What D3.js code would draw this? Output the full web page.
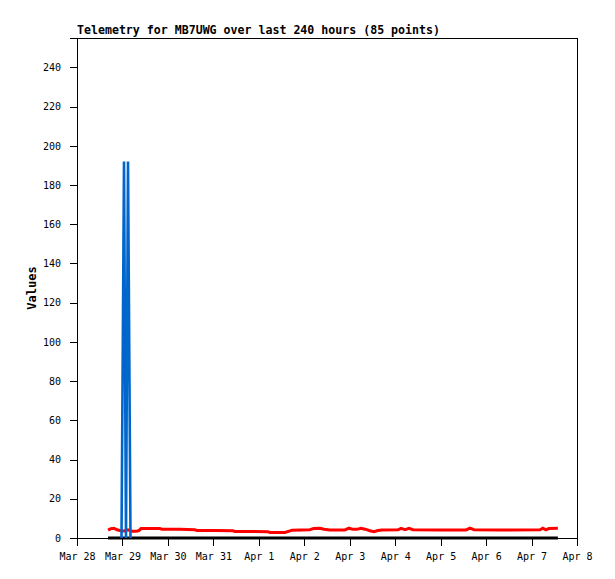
<!DOCTYPE html>
<html>
<head>
<meta charset="utf-8">
<script src="https://cdn.jsdelivr.net/npm/d3@7"></script>
<style>
  body { margin: 0; background: #fff; }
  svg { display: block; }
</style>
</head>
<body>
<svg id="chart" width="615" height="579"></svg>
<script>
// ---- data ----
const titleText = "Telemetry for MB7UWG over last 240 hours (85 points)";
const yLabel = "Values";
const startDate = "2024-03-28T00:00:00Z";
const endDate = "2024-04-08T00:00:00Z";
const yTicks = [0, 20, 40, 60, 80, 100, 120, 140, 160, 180, 200, 220, 240];

// red series: hours after Mar 28 00:00, value
const redHours = [16.4, 17.9, 19.5, 21.1, 22.7, 24.8, 26.9, 29.0, 31.2, 32.7, 33.8, 38.5, 43.8, 44.9,
  54.4, 62.3, 63.4, 72.9, 82.4, 83.4, 91.3, 100.8, 101.9, 109.8, 112.5, 113.5, 123.0, 125.0,
  128.3, 130.4, 133.6, 141.5, 143.6, 145.7, 147.8, 149.9, 152.1, 154.7, 156.8, 158.9, 161.0,
  169.5, 171.1, 173.2, 175.3, 177.4, 191.7, 205.4, 207.5, 209.6, 223.3, 244.5, 246.0, 247.6,
  249.2, 253.9];
const redValues = [4.0, 4.8, 5.0, 4.2, 3.8, 3.6, 4.2, 3.4, 3.4, 3.8, 4.8, 4.8, 4.8, 4.4,
  4.4, 4.2, 3.8, 3.8, 3.7, 3.3, 3.3, 3.2, 2.8, 2.8, 3.6, 4.0, 4.2, 4.9,
  5.0, 4.5, 4.1, 4.1, 5.0, 4.4, 4.4, 5.0, 4.5, 3.7, 3.2, 3.8, 4.1,
  4.2, 4.9, 4.3, 4.9, 4.2, 4.1, 4.1, 5.0, 4.2, 4.1, 4.2, 5.0, 4.2,
  4.8, 5.0];

// blue series (spikes)
const blueHours = [23.5, 24.82, 25.87, 26.93, 28.25];
const blueValues = [0, 192, 0, 192, 0];

// black series (zero line)
const blackHours = [16.4, 253.9];
const blackValues = [0, 0];

// ---- layout ----
const W = 615, H = 579;
const m = { left: 77, right: 38, top: 38, bottom: 41 };
const iw = W - m.left - m.right, ih = H - m.top - m.bottom;
const mono = "'DejaVu Sans Mono', 'Liberation Mono', monospace";

const t0 = new Date(startDate);
const toDate = h => new Date(t0.getTime() + h * 3600e3);

const x = d3.scaleUtc().domain([new Date(startDate), new Date(endDate)]).range([0, iw]);
const y = d3.scaleLinear().domain([0, 255]).range([ih, 0]);

const svg = d3.select("#chart");
svg.append("rect").attr("width", W).attr("height", H).attr("fill", "#fff");
const g = svg.append("g").attr("transform", `translate(${m.left},${m.top})`);

// frame
g.append("rect").attr("x", 0).attr("y", 0).attr("width", iw).attr("height", ih)
  .attr("fill", "none").attr("stroke", "#000").attr("stroke-width", 1)
  .attr("shape-rendering", "crispEdges");

// red line
const red = redHours.map((h, i) => ({ t: toDate(h), v: redValues[i] }));
g.append("path").datum(red)
  .attr("fill", "none").attr("stroke", "#ff0000").attr("stroke-width", 3)
  .attr("d", d3.line().x(d => x(d.t)).y(d => y(d.v)));

// black line
const black = blackHours.map((h, i) => ({ t: toDate(h), v: blackValues[i] }));
g.append("path").datum(black)
  .attr("fill", "none").attr("stroke", "#000").attr("stroke-width", 3)
  .attr("d", d3.line().x(d => x(d.t)).y(d => y(d.v)));

// blue spikes (line)
const blue = blueHours.map((h, i) => ({ t: toDate(h), v: blueValues[i] }));
g.append("path").datum(blue)
  .attr("fill", "none").attr("stroke", "#0066cc").attr("stroke-width", 2.6)
  .attr("stroke-linejoin", "bevel")
  .attr("d", d3.line().x(d => x(d.t)).y(d => y(d.v)));

// y axis
const yAxis = g.append("g").call(d3.axisLeft(y).tickValues(yTicks).tickSize(7).tickPadding(9));
yAxis.select(".domain").attr("shape-rendering", "crispEdges");
yAxis.selectAll("line").attr("shape-rendering", "crispEdges");
yAxis.selectAll("text").attr("font-family", mono).attr("font-size", 10).attr("fill", "#000");

// x axis
const xTicks = d3.utcDay.range(new Date(startDate), d3.utcDay.offset(new Date(endDate), 1));
const xAxis = g.append("g").attr("transform", `translate(0,${ih})`)
  .call(d3.axisBottom(x).tickValues(xTicks).tickFormat(d3.utcFormat("%b %-d")).tickSize(8).tickPadding(7));
xAxis.select(".domain").attr("shape-rendering", "crispEdges");
xAxis.selectAll("line").attr("shape-rendering", "crispEdges");
xAxis.selectAll("text").attr("font-family", mono).attr("font-size", 10).attr("fill", "#000");

// title
svg.append("text").attr("x", m.left).attr("y", 34)
  .attr("font-family", mono).attr("font-weight", "bold").attr("font-size", 11.6)
  .text(titleText);

// y label
svg.append("text").attr("transform", `translate(36,${m.top + ih / 2}) rotate(-90)`)
  .attr("text-anchor", "middle")
  .attr("font-family", mono).attr("font-weight", "bold").attr("font-size", 12)
  .text(yLabel);
</script>
</body>
</html>
